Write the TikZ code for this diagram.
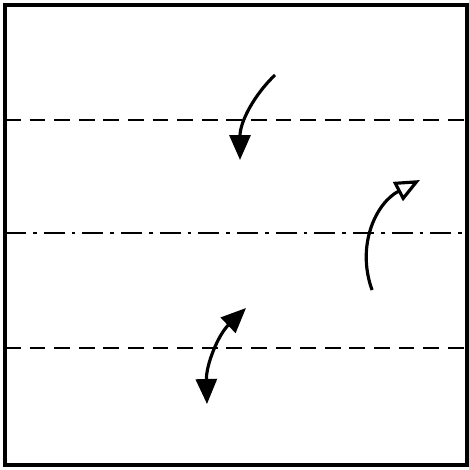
\documentclass[tikz,border=0pt]{standalone}
\usepackage{tikz}
\usetikzlibrary{arrows.meta}

\begin{document}
\begin{tikzpicture}[
    x=0.02cm, y=-0.02cm,
    frame/.style={line width=2.2pt},
    foldline/.style={line width=1.5pt, dash pattern=on 9pt off 5pt},
    axisline/.style={line width=1.5pt, dash pattern=on 12pt off 4pt on 2pt off 4pt},
    turn/.style={line width=1.8pt, -{Triangle[length=5mm, width=4.2mm]}},
    swing/.style={line width=1.8pt, {Triangle[length=5mm, width=4.2mm]}-{Triangle[length=5mm, width=4.2mm]}},
    flip/.style={line width=1.8pt, -{Triangle[open, length=5mm, width=4.2mm, line width=1.8pt]}}
]
\useasboundingbox (0,0) rectangle (469,470);

% outline
\draw[frame] (5,5) rectangle (467,465);

% lines across
\draw[foldline] (5,120) -- (467,120);
\draw[axisline] (5,233) -- (467,233);
\draw[foldline] (5,348) -- (467,348);

% arrows
\coordinate (topstart) at (275,75);
\coordinate (topend) at (240,160);
\draw[turn] (topstart) .. controls (254,95) and (240,122) .. (topend);

\coordinate (sidestart) at (372,290);
\coordinate (sideend) at (420,180);
\draw[flip] (sidestart) .. controls (356,245) and (376,203) .. (sideend);

\coordinate (lowtop) at (246,308);
\coordinate (lowbottom) at (207,404);
\draw[swing] (lowtop) .. controls (218,335) and (206,365) .. (lowbottom);

\end{tikzpicture}
\end{document}
